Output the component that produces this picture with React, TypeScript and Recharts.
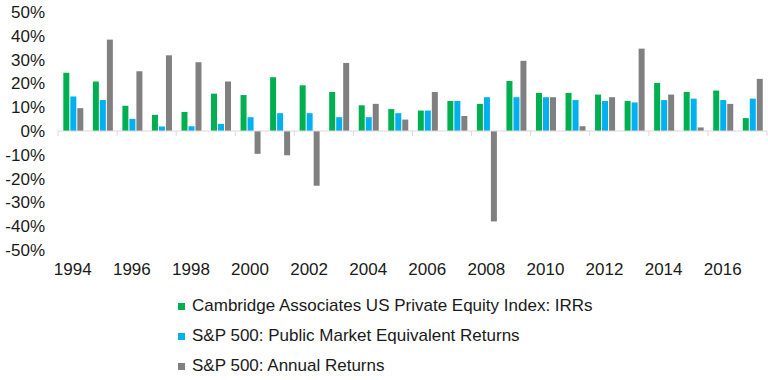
import React from "react";
import { BarChart, Bar, XAxis, YAxis, ReferenceLine, Legend } from "recharts";

const years = ["1994","1995","1996","1997","1998","1999","2000","2001","2002","2003","2004","2005","2006","2007","2008","2009","2010","2011","2012","2013","2014","2015","2016","2017"];
const cambridgeIRR = [24.5, 20.8, 10.6, 6.8, 8.0, 15.7, 15.1, 22.6, 19.2, 16.4, 10.8, 9.2, 8.6, 12.6, 11.4, 21.0, 16.0, 16.0, 15.3, 12.6, 20.2, 16.4, 17.0, 5.4];
const spPME = [14.5, 13.0, 5.1, 1.9, 2.0, 3.0, 5.8, 7.5, 7.5, 5.8, 5.8, 7.5, 8.6, 12.6, 14.2, 14.2, 14.2, 13.0, 12.6, 12.0, 13.0, 13.6, 13.0, 13.6];
const spAnnual = [9.6, 38.4, 25.1, 31.8, 28.9, 20.8, -9.6, -10.2, -23.0, 28.6, 11.4, 4.8, 16.4, 6.3, -38.0, 29.5, 14.2, 2.0, 14.2, 34.6, 15.3, 1.5, 11.4, 21.9];
const yTicks = [-50, -40, -30, -20, -10, 0, 10, 20, 30, 40, 50];
const xLabelYears = ["1994","1996","1998","2000","2002","2004","2006","2008","2010","2012","2014","2016"];

const seriesNames = [
  "Cambridge Associates US Private Equity Index: IRRs",
  "S&P 500: Public Market Equivalent Returns",
  "S&P 500: Annual Returns",
];
const colors = ["#00b050", "#00b0f0", "#808080"];

const data = years.map((y, i) => ({
  year: y,
  pe: cambridgeIRR[i],
  pme: spPME[i],
  sp: spAnnual[i],
}));

const FONT = "'Liberation Sans', Arial, sans-serif";

const TickMark = (props: any) => {
  const { x1, y1 } = props;
  if (x1 == null || y1 == null) return null;
  return <line x1={x1} y1={y1} x2={x1} y2={y1 + 5} stroke="#d9d9d9" strokeWidth={1} />;
};

const LegendContent = () => (
  <div style={{ fontFamily: FONT, fontSize: 17, color: "#1a1a1a" }}>
    {seriesNames.map((n, i) => (
      <div key={n} style={{ display: "flex", alignItems: "center", height: 30, whiteSpace: "nowrap" }}>
        <span style={{ display: "inline-block", width: 7, height: 7, background: colors[i], marginRight: 7 }} />
        <span>{n}</span>
      </div>
    ))}
  </div>
);

export default function App() {
  return (
    <div style={{ position: "absolute", left: 0, top: 0, width: 768, height: 380, background: "#fff" }}>
      <BarChart
        width={768}
        height={380}
        data={data}
        margin={{ top: 12, right: 1, left: 0, bottom: 100 }}
        barCategoryGap="18%"
        barGap={1}
      >
        <XAxis
          dataKey="year"
          ticks={xLabelYears}
          interval={0}
          axisLine={false}
          tickLine={false}
          tickSize={0}
          tickMargin={13}
          height={30}
          tick={{ fontFamily: FONT, fontSize: 17, fill: "#1a1a1a" }}
        />
        <YAxis
          domain={[-50, 50]}
          ticks={yTicks}
          interval={0}
          axisLine={false}
          tickLine={false}
          tickSize={0}
          tickMargin={13}
          width={58}
          tickFormatter={(v: number) => `${v}%`}
          tick={{ fontFamily: FONT, fontSize: 17, fill: "#1a1a1a" }}
        />
        <ReferenceLine y={0} stroke="#d9d9d9" strokeWidth={1} />
        {xLabelYears.map((y) => (
          <ReferenceLine
            key={"t" + y}
            segment={[{ x: y, y: 0 }, { x: y, y: 0 }]}
            position="start"
            shape={<TickMark />}
          />
        ))}
        <ReferenceLine
          segment={[{ x: "2017", y: 0 }, { x: "2017", y: 0 }]}
          position="end"
          shape={<TickMark />}
        />
        <Bar dataKey="pe" name={seriesNames[0]} fill={colors[0]} isAnimationActive={false} />
        <Bar dataKey="pme" name={seriesNames[1]} fill={colors[1]} isAnimationActive={false} />
        <Bar dataKey="sp" name={seriesNames[2]} fill={colors[2]} isAnimationActive={false} />
        <Legend
          layout="vertical"
          align="center"
          verticalAlign="middle"
          content={<LegendContent />}
          wrapperStyle={{ top: 291, left: 178, width: 420 }}
        />
      </BarChart>
    </div>
  );
}
